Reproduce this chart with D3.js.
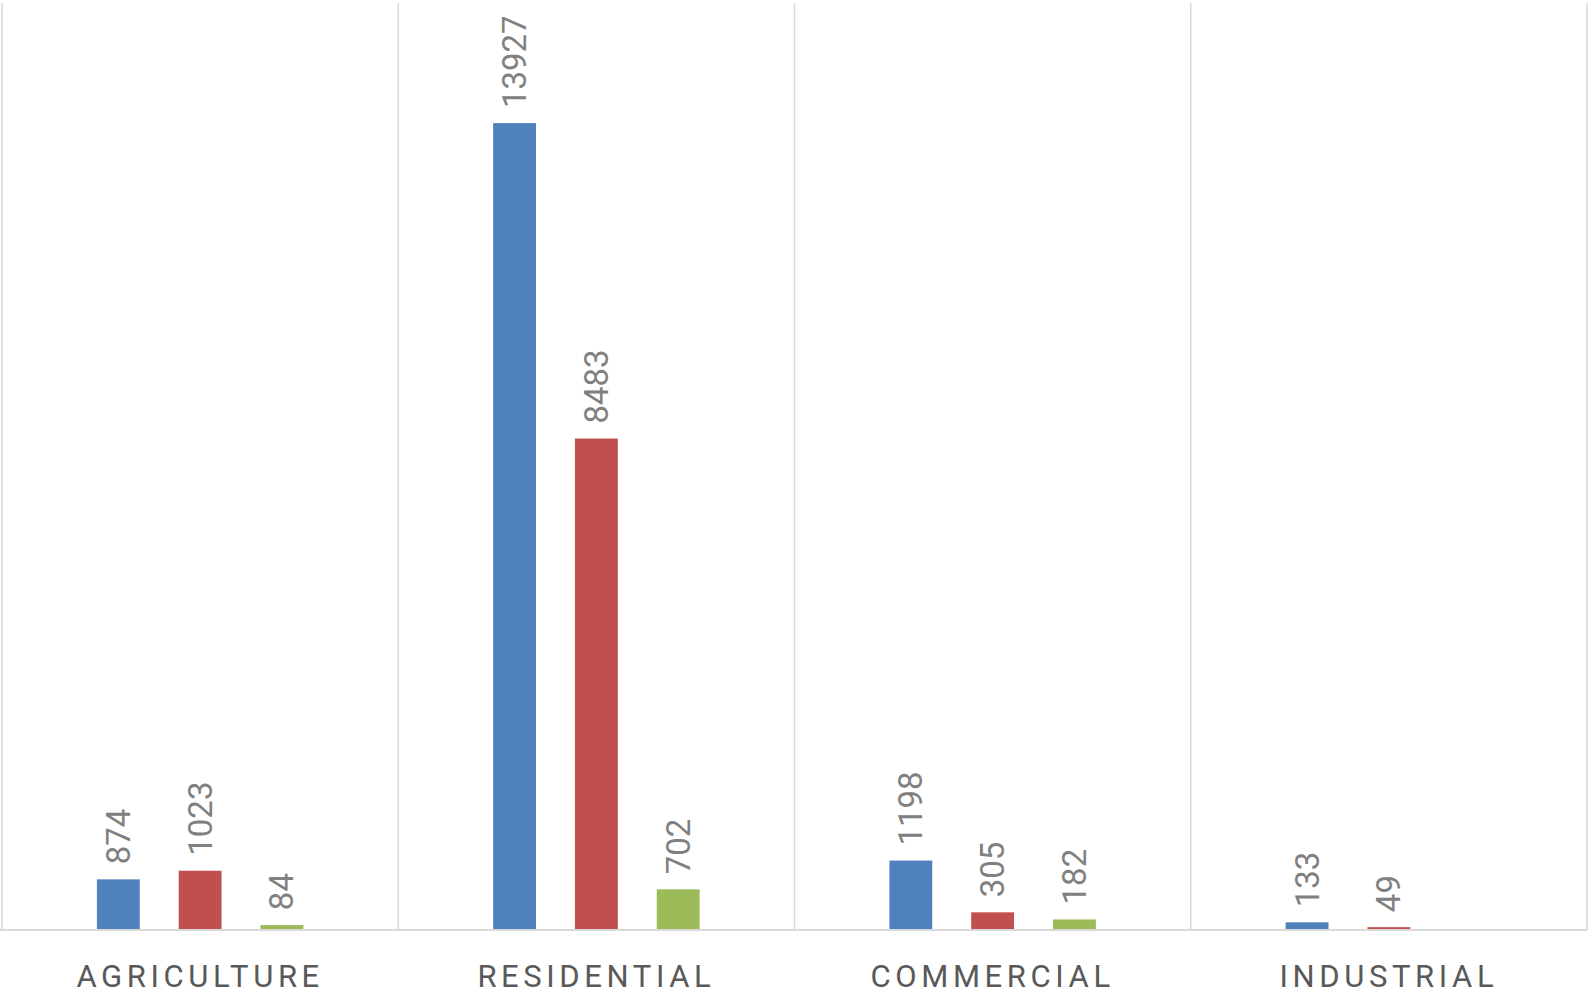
<!DOCTYPE html>
<html><head><meta charset="utf-8">
<script src="https://cdn.jsdelivr.net/npm/d3@7/dist/d3.min.js"></script>
<style>html,body{margin:0;padding:0;background:#fff;overflow:hidden}</style>
</head><body><svg id="c" width="1588" height="994"></svg>
<script>
const categories = ["AGRICULTURE", "RESIDENTIAL", "COMMERCIAL", "INDUSTRIAL"];
const seriesNames = ["Series 1", "Series 2", "Series 3"];
const series1 = [874, 13927, 1198, 133];
const series2 = [1023, 8483, 305, 49];
const series3 = [84, 702, 182, null];
const seriesColors = ["#4f81bd", "#c0504d", "#9bbb59"];
const yMax = 16000;

(function(){
const svg = d3.select("#c");
const mLeft = 2, mRight = 1587, mTop = 3, mBottom = 930;

const x = d3.scaleBand().domain(categories).range([mLeft, mRight]).padding(0);
const y = d3.scaleLinear().domain([0, yMax]).range([mBottom, mTop]);
const xs = d3.scaleBand().domain(seriesNames).range([0, x.bandwidth()]).paddingInner(0.476).paddingOuter(1.16);

const allSeries = [series1, series2, series3];
const rows = [];
categories.forEach((c, i) => allSeries.forEach((s, j) => {
  if (s[i] != null) rows.push({cat: c, name: seriesNames[j], v: s[i], color: seriesColors[j]});
}));

const grid = svg.append("g");
const edges = categories.map(c => x(c)).concat([mRight]);
grid.selectAll("line").data(edges).join("line")
  .attr("x1", d => d).attr("x2", d => d).attr("y1", mTop).attr("y2", mBottom)
  .attr("stroke", "#d9d9d9").attr("stroke-width", 1.5);

svg.append("g").selectAll("rect").data(rows).join("rect")
  .attr("x", d => x(d.cat) + xs(d.name))
  .attr("width", xs.bandwidth())
  .attr("y", d => y(d.v))
  .attr("height", d => mBottom - y(d.v))
  .attr("fill", d => d.color);

svg.append("line").attr("x1", 0).attr("x2", mRight).attr("y1", mBottom).attr("y2", mBottom)
  .attr("stroke", "#d9d9d9").attr("stroke-width", 2);

svg.append("g").selectAll("text").data(rows).join("text")
  .attr("transform", d => `translate(${x(d.cat) + xs(d.name) + xs.bandwidth()/2},${y(d.v) - 15}) rotate(-90)`)
  .attr("dominant-baseline", "central")
  .attr("text-anchor", "start")
  .attr("font-family", "Roboto")
  .attr("font-size", 33)
  .attr("fill", "#808080")
  .text(d => d.v);

svg.append("g").selectAll("text").data(categories).join("text")
  .attr("x", d => x(d) + x.bandwidth()/2)
  .attr("y", 987)
  .attr("text-anchor", "middle")
  .attr("font-family", "Roboto")
  .attr("font-size", 31)
  .attr("letter-spacing", "4.6px")
  .attr("fill", "#595959")
  .text(d => d);
})();
</script></body></html>
